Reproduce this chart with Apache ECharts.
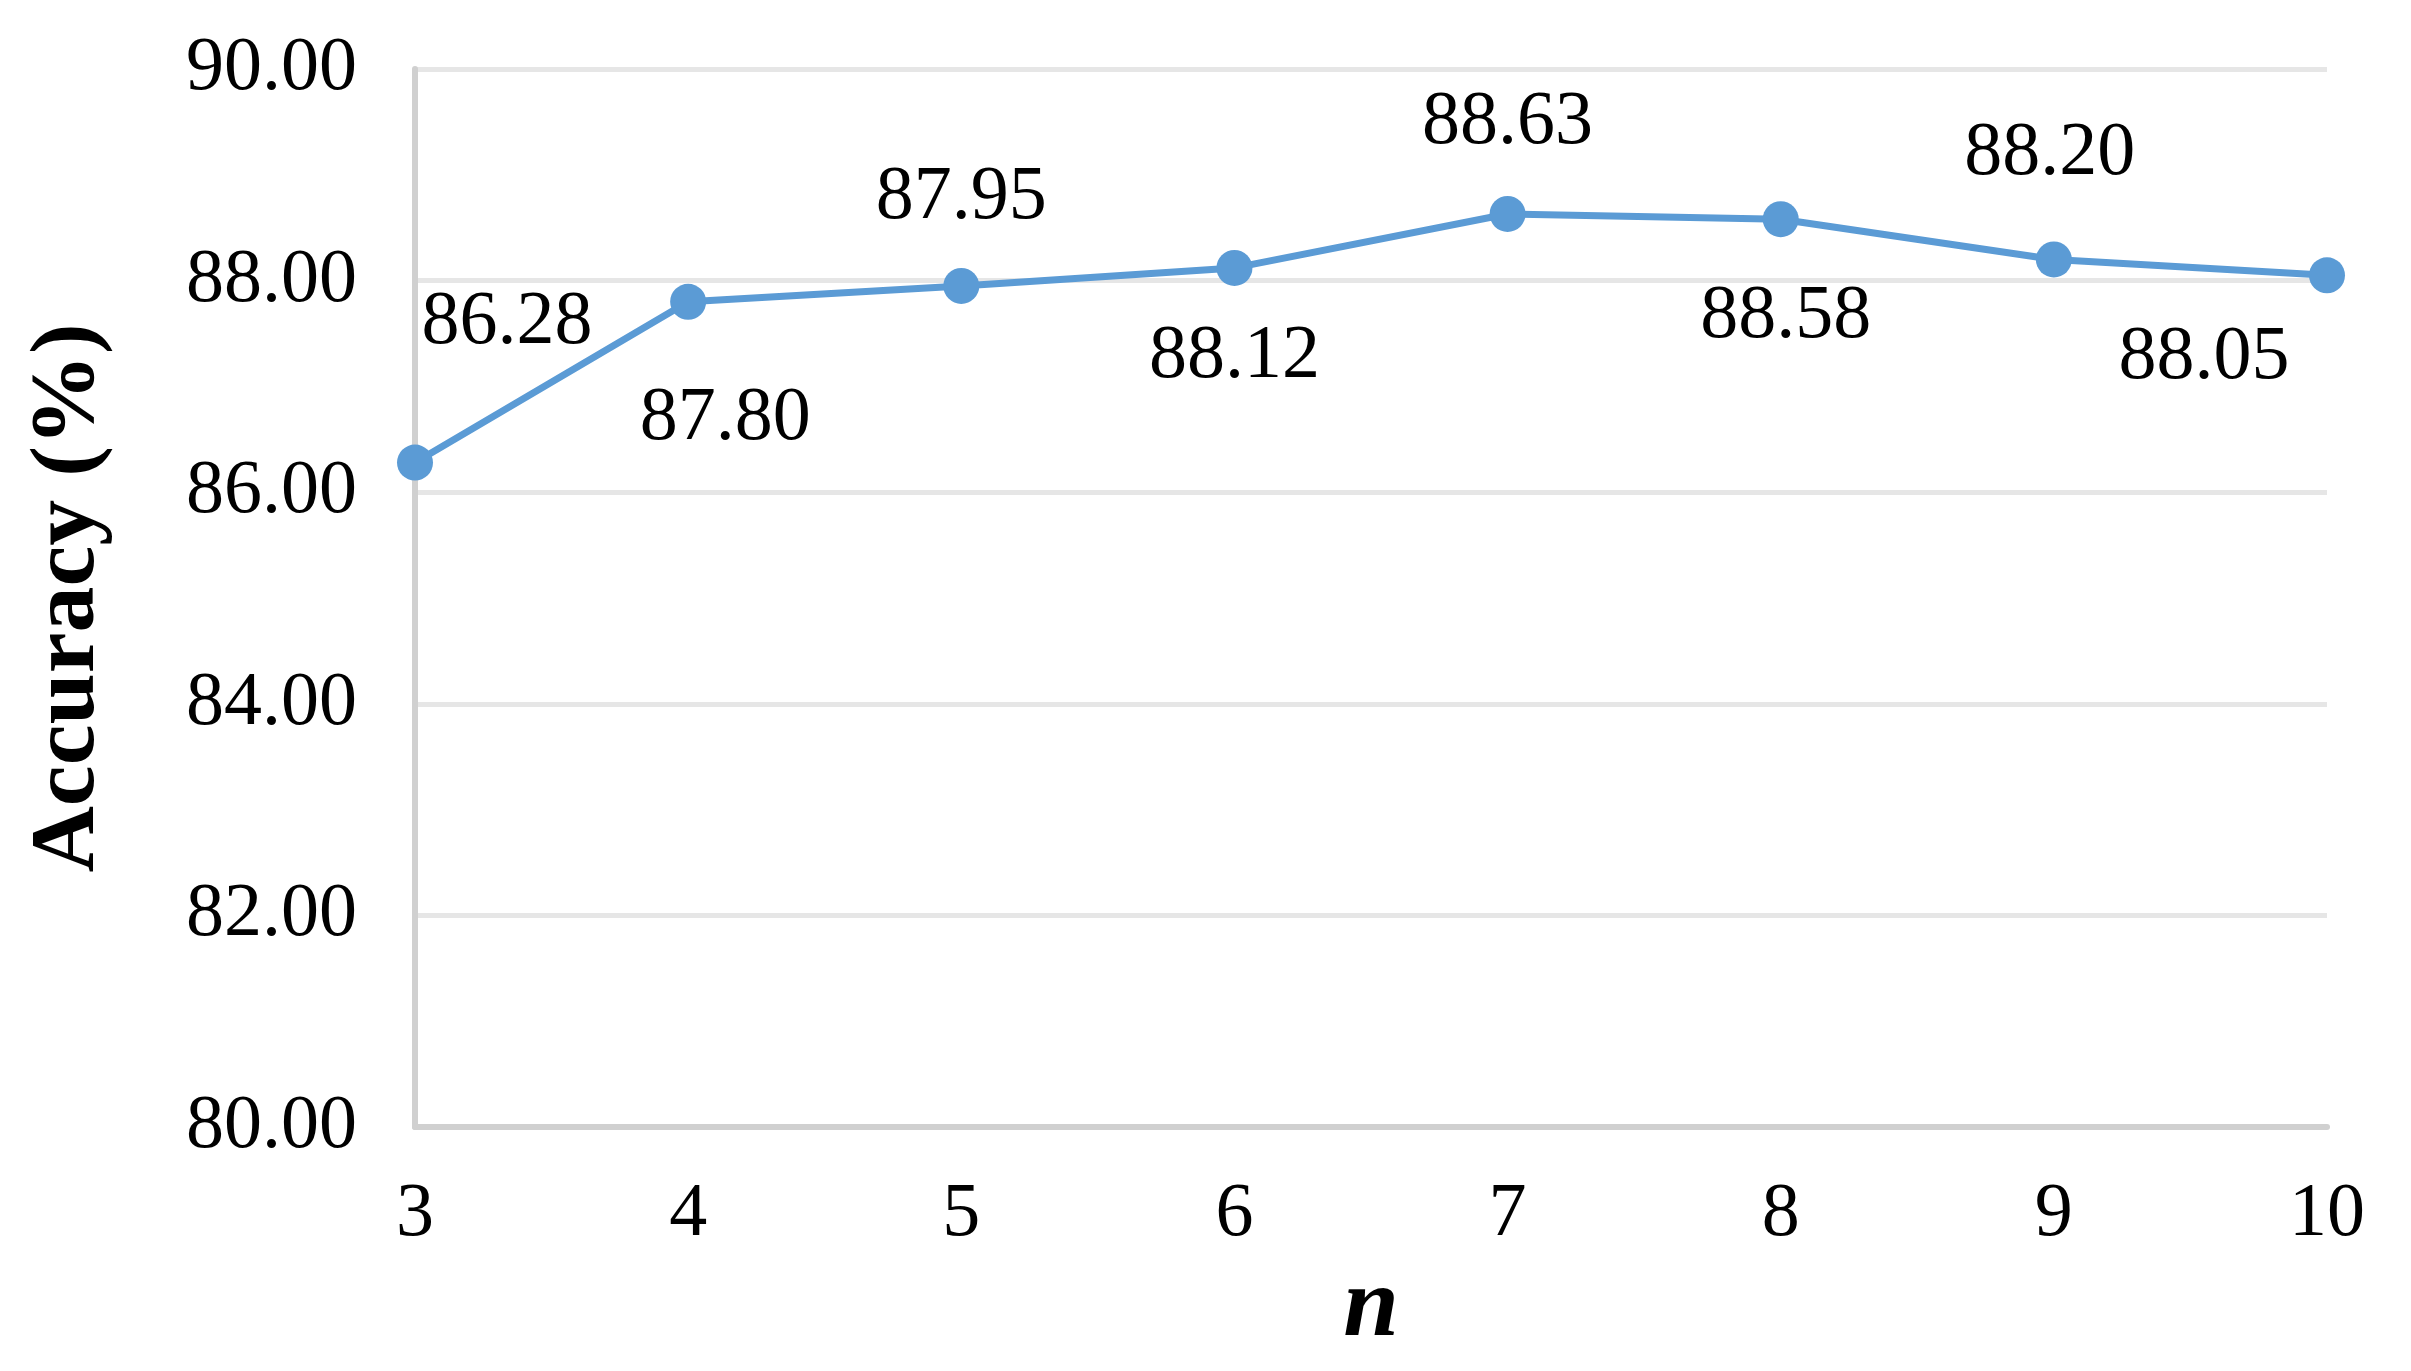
<!DOCTYPE html>
<html>
<head>
<meta charset="utf-8">
<script src="https://cdn.jsdelivr.net/npm/echarts@6/dist/echarts.min.js"></script>
<style>
    html, body { margin: 0; padding: 0; background: #fff; }
    #chart { width: 2411px; height: 1371px; }
</style>
</head>
<body>
<div id="chart"></div>
<script>
// data
var nValues = ['3', '4', '5', '6', '7', '8', '9', '10'];
var accuracy = [86.28, 87.80, 87.95, 88.12, 88.63, 88.58, 88.20, 88.05];
var yTicks = [80, 82, 84, 86, 88, 90];

// where each value label sits relative to its point (px)
var labelOffsets = [[92, -140], [37, 117], [0, -88], [0, 89], [0, -91], [5, 98], [-4, -105], [-123, 83]];

var font = '"Liberation Serif", "Times New Roman", serif';

var chart = echarts.init(document.getElementById('chart'));

var points = accuracy.map(function(v, i) {
    return {
        value: v,
        label: { offset: labelOffsets[i] }
    };
});

var option = {
    backgroundColor: '#ffffff',
    animation: false,
    grid: {
        left: 415,
        right: 84,
        top: 69,
        bottom: 244
    },
    xAxis: {
        type: 'category',
        data: nValues,
        boundaryGap: false,
        name: 'n',
        nameLocation: 'middle',
        nameGap: 132,
        nameTextStyle: {
            fontFamily: font,
            fontSize: 100,
            fontWeight: 'bold',
            fontStyle: 'italic',
            color: '#000'
        },
        axisLine: { lineStyle: { color: '#d0d0d0', width: 6 } },
        axisTick: { show: false },
        axisLabel: {
            margin: 50,
            fontFamily: font,
            fontSize: 76,
            color: '#000'
        },
        splitLine: { show: false }
    },
    yAxis: {
        type: 'value',
        min: yTicks[0],
        max: yTicks[yTicks.length - 1],
        interval: 2,
        name: 'Accuracy (%)',
        nameLocation: 'middle',
        nameGap: 300,
        nameTextStyle: {
            fontFamily: font,
            fontSize: 92,
            fontWeight: 'bold',
            color: '#000'
        },
        axisLine: { show: true, lineStyle: { color: '#d0d0d0', width: 6 } },
        axisTick: { show: false },
        axisLabel: {
            margin: 58,
            fontFamily: font,
            fontSize: 76,
            color: '#000',
            formatter: function(v) { return v.toFixed(2); }
        },
        splitLine: { lineStyle: { color: '#e6e6e6', width: 5 } }
    },
    series: [{
        type: 'line',
        data: points,
        symbol: 'circle',
        symbolSize: 36,
        lineStyle: { color: '#5b9bd5', width: 7 },
        itemStyle: { color: '#5b9bd5' },
        label: {
            show: true,
            position: 'inside',
            fontFamily: font,
            fontSize: 76,
            color: '#000',
            formatter: function(p) { return p.value.toFixed(2); }
        }
    }]
};

chart.setOption(option);
</script>
</body>
</html>
